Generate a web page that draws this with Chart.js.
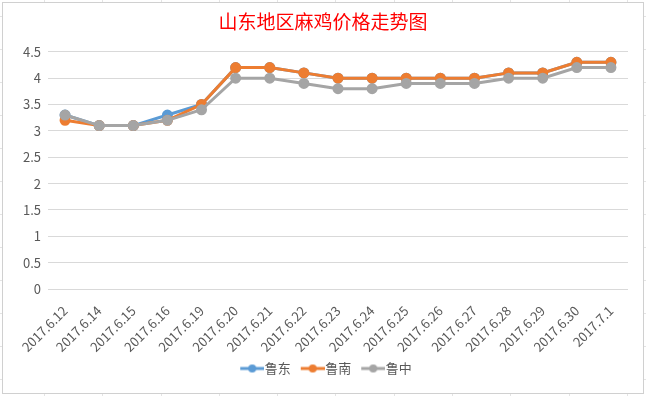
<!DOCTYPE html>
<html lang="zh">
<head>
    <meta charset="UTF-8">
    <title>山东地区麻鸡价格走势图</title>
    <script src="https://cdn.jsdelivr.net/npm/chart.js"></script>
    <style>
        body {
            margin: 0; padding: 0;
            background-color: #fff;
            /* faint worksheet cells around the chart */
            background-image:
                repeating-linear-gradient(to right, transparent 0 44px, #e4e4e4 44px 45px, transparent 45px 58.3px),
                repeating-linear-gradient(to bottom, transparent 0 16px, #e4e4e4 16px 17px, transparent 17px 33px);
        }
        .wrap { position: relative; width: 646px; height: 396px; }
        .frame {
            position: absolute; left: 2px; top: 2px; width: 640px; height: 390px;
            border: 1px solid #d0d0d0; background: #fff;
        }
        canvas { position: absolute; left: 0; top: 0; }
    </style>
</head>
<body>
<div class="wrap">
    <div class="frame"></div>
    <canvas id="priceChart" width="646" height="396"></canvas>
</div>
<script>
    // 日期
    const dates = ['2017.6.12', '2017.6.14', '2017.6.15', '2017.6.16', '2017.6.19', '2017.6.20',
        '2017.6.21', '2017.6.22', '2017.6.23', '2017.6.24', '2017.6.25', '2017.6.26',
        '2017.6.27', '2017.6.28', '2017.6.29', '2017.6.30', '2017.7.1'];
    // 三个地区的价格
    const ludong  = [3.3, 3.1, 3.1, 3.3, 3.5, 4.2, 4.2, 4.1, 4.0, 4.0, 4.0, 4.0, 4.0, 4.1, 4.1, 4.3, 4.3];
    const lunan   = [3.2, 3.1, 3.1, 3.2, 3.5, 4.2, 4.2, 4.1, 4.0, 4.0, 4.0, 4.0, 4.0, 4.1, 4.1, 4.3, 4.3];
    const luzhong = [3.3, 3.1, 3.1, 3.2, 3.4, 4.0, 4.0, 3.9, 3.8, 3.8, 3.9, 3.9, 3.9, 4.0, 4.0, 4.2, 4.2];
    const yTicks = [0, 0.5, 1, 1.5, 2, 2.5, 3, 3.5, 4, 4.5];

    const font = '"Microsoft YaHei", "Noto Sans CJK SC", sans-serif';

    // legend marker: short line with a dot, like Excel
    // (blank strip on the left so the visible part sits closer to the text)
    function marker(color) {
        const c = document.createElement('canvas');
        c.width = 36; c.height = 10;
        const g = c.getContext('2d');
        g.strokeStyle = color; g.lineWidth = 3;
        g.beginPath(); g.moveTo(12, 5); g.lineTo(36, 5); g.stroke();
        g.fillStyle = color;
        g.beginPath(); g.arc(24, 5, 4, 0, Math.PI * 2); g.fill();
        return c;
    }

    function series(label, data, color, order) {
        return {
            label: label, data: data, order: order,
            borderColor: color, backgroundColor: color,
            borderWidth: 3, pointRadius: 4, pointHoverRadius: 4,
            pointBackgroundColor: color, pointBorderColor: color,
            tension: 0
        };
    }

    const ctx = document.getElementById('priceChart').getContext('2d');
    new Chart(ctx, {
        type: 'line',
        data: {
            labels: dates,
            datasets: [
                series('鲁东', ludong, '#5B9BD5', 3),
                series('鲁南', lunan, '#ED7D31', 2),
                series('鲁中', luzhong, '#A5A5A5', 1)
            ]
        },
        options: {
            responsive: false,
            animation: false,
            layout: { padding: { left: 18, right: 18, top: 0, bottom: 11 } },
            scales: {
                x: {
                    offset: true,
                    grid: { display: false },
                    border: { display: false },
                    ticks: {
                        minRotation: 45, maxRotation: 45, autoSkip: false,
                        color: '#595959', font: { family: font, size: 13 }, padding: 6
                    },
                    afterFit: s => { s.height = 69; }
                },
                y: {
                    min: 0, max: 4.5,
                    afterBuildTicks: s => { s.ticks = yTicks.map(v => ({ value: v })); },
                    grid: { color: '#d9d9d9', drawTicks: false },
                    border: { display: false },
                    ticks: {
                        color: '#595959', font: { family: font, size: 13 }, padding: 7,
                        callback: v => String(v)
                    },
                    afterFit: s => { s.width = 30; }
                }
            },
            plugins: {
                title: {
                    display: true, text: '山东地区麻鸡价格走势图',
                    color: '#FF0000', font: { family: font, size: 19, weight: 'normal' },
                    padding: { top: 10, bottom: 19 }
                },
                legend: {
                    position: 'bottom',
                    labels: {
                        color: '#595959', font: { family: font, size: 13 },
                        usePointStyle: true, pointStyleWidth: 24, padding: 4,
                        generateLabels: chart => chart.data.datasets.map((d, i) => ({
                            text: d.label, pointStyle: marker(d.borderColor),
                            fillStyle: d.borderColor, strokeStyle: d.borderColor,
                            fontColor: '#595959', datasetIndex: i, hidden: false
                        }))
                    }
                },
                tooltip: { enabled: false }
            }
        }
    });
</script>
</body>
</html>
